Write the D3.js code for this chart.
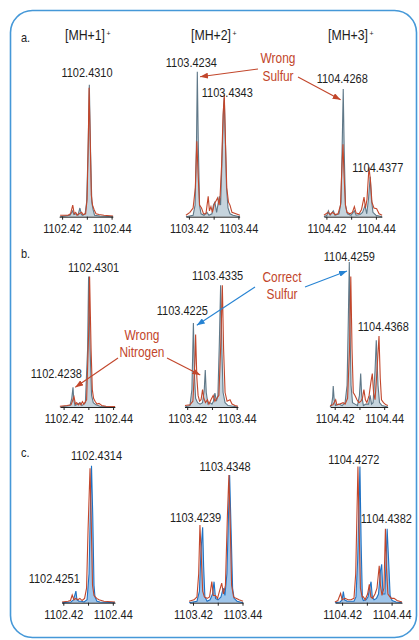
<!DOCTYPE html>
<html>
<head>
<meta charset="utf-8">
<script src="https://cdn.jsdelivr.net/npm/d3@7"></script>
<style>
  body { margin: 0; background: #fff; }
  svg { display: block; font-family: "Liberation Sans", Arial, sans-serif; }
  .axis path, .axis line { stroke: #222; stroke-width: 1; }
  .axis text { font-family: "Liberation Sans", Arial, sans-serif; font-size: 13.4px; fill: #222; }
</style>
</head>
<body>
<svg id="chart" width="419" height="640"></svg>
<script>
"use strict"

/* DATA
 */
const rowNames = ["a.", "b.", "c."];
const ionHeaders = ["[MH+1]", "[MH+2]", "[MH+3]"];
const ionCharge = "+";
const nominalMass = [1102, 1103, 1104];
const tickOffsets = [0.42, 0.43, 0.44];

// [m/z, relative intensity]  - measured (filled) and calculated (red line)
const a1Measured = [[1102.4192,0],[1102.4232,1],[1102.4242,4],[1102.4248,1.5],[1102.4258,2],[1102.4264,1],[1102.4272,6],[1102.4278,1.5],[1102.4284,1],[1102.4293,2],[1102.4299,10],[1102.4305,45],[1102.4310,91],[1102.4315,45],[1102.4320,10],[1102.4325,5],[1102.4331,1],[1102.4353,0.5],[1102.4406,0]];
const a1Theory = [[1102.4192,1],[1102.4224,1],[1102.4234,2],[1102.4243,8],[1102.4249,2],[1102.4255,3],[1102.4260,1],[1102.4279,3],[1102.4284,1.5],[1102.4295,2],[1102.4301,12],[1102.4306,55],[1102.4309,89],[1102.4314,50],[1102.4318,15],[1102.4323,8],[1102.4329,5],[1102.4337,2],[1102.4349,1.5],[1102.4369,1],[1102.4406,0.5]];

const a2Measured = [[1103.4188,0],[1103.4217,1],[1103.4225,8],[1103.4231,55],[1103.4234,100],[1103.4238,50],[1103.4243,8],[1103.4249,2],[1103.4261,1],[1103.4273,3],[1103.4281,1],[1103.4293,2],[1103.4299,8],[1103.4305,10],[1103.4312,3],[1103.4318,9],[1103.4323,14],[1103.4328,8],[1103.4334,40],[1103.4340,75],[1103.4343,82],[1103.4347,55],[1103.4352,20],[1103.4358,6],[1103.4366,2],[1103.4378,1],[1103.4406,0]];
const a2Theory = [[1103.4188,1],[1103.4204,3],[1103.4217,6],[1103.4226,20],[1103.4232,52],[1103.4237,30],[1103.4243,8],[1103.4251,6],[1103.4259,2],[1103.4269,2],[1103.4278,14],[1103.4283,4],[1103.4289,7],[1103.4295,3],[1103.4303,9],[1103.4310,11],[1103.4316,13],[1103.4322,8],[1103.4326,14],[1103.4332,35],[1103.4338,70],[1103.4343,84],[1103.4348,50],[1103.4353,20],[1103.4360,10],[1103.4366,8],[1103.4374,3],[1103.4390,2],[1103.4406,1]];

const a3Measured = [[1104.4190,0],[1104.4202,1],[1104.4208,4],[1104.4215,1],[1104.4228,4],[1104.4235,1],[1104.4251,2],[1104.4259,10],[1104.4265,60],[1104.4268,88],[1104.4272,45],[1104.4277,8],[1104.4285,2],[1104.4299,1],[1104.4313,4],[1104.4320,1],[1104.4336,1.5],[1104.4346,3],[1104.4356,7.6],[1104.4363,2],[1104.4370,12],[1104.4377,27.5],[1104.4382,12],[1104.4388,3],[1104.4400,1],[1104.4425,0]];
const a3Theory = [[1104.4190,1],[1104.4206,3],[1104.4215,1.5],[1104.4225,3],[1104.4235,1.5],[1104.4247,2],[1104.4257,8],[1104.4263,35],[1104.4267,50],[1104.4271,30],[1104.4277,8],[1104.4283,3],[1104.4295,2],[1104.4305,3],[1104.4313,7],[1104.4320,2.5],[1104.4332,2],[1104.4342,5],[1104.4352,13.5],[1104.4358,6],[1104.4364,12],[1104.4372,34],[1104.4378,25],[1104.4384,10],[1104.4392,6],[1104.4403,5.5],[1104.4413,2],[1104.4425,1]];

const b1Measured = [[1102.4185,0],[1102.4226,1],[1102.4233,6],[1102.4238,13.6],[1102.4241,5],[1102.4246,1],[1102.4258,2],[1102.4266,3],[1102.4274,1],[1102.4288,3],[1102.4297,40],[1102.4301,90],[1102.4307,40],[1102.4313,8],[1102.4320,3],[1102.4331,1.5],[1102.4347,0.5],[1102.4408,0]];
const b1Theory = [[1102.4185,0.5],[1102.4214,1],[1102.4230,1.5],[1102.4242,7],[1102.4248,2],[1102.4253,3],[1102.4260,1.5],[1102.4266,2.6],[1102.4270,1.5],[1102.4276,3.7],[1102.4282,2],[1102.4293,5],[1102.4301,50],[1102.4305,90],[1102.4311,40],[1102.4316,12],[1102.4321,6],[1102.4327,4],[1102.4335,2],[1102.4343,2.5],[1102.4354,1],[1102.4371,0.5],[1102.4408,0.3]];

const b2Measured = [[1103.4191,0],[1103.4211,1],[1103.4219,12],[1103.4225,58],[1103.4230,20],[1103.4234,6],[1103.4242,3],[1103.4252,2],[1103.4262,3],[1103.4269,12],[1103.4273,25.5],[1103.4277,10],[1103.4284,2],[1103.4292,3],[1103.4300,2],[1103.4306,4],[1103.4312,9.6],[1103.4318,4],[1103.4324,8],[1103.4330,45],[1103.4335,84],[1103.4340,40],[1103.4345,10],[1103.4353,3],[1103.4365,1],[1103.4405,0]];
const b2Theory = [[1103.4191,1],[1103.4211,1.5],[1103.4223,4],[1103.4231,30],[1103.4234,50],[1103.4239,20],[1103.4244,8],[1103.4250,4],[1103.4256,5],[1103.4262,12],[1103.4267,6],[1103.4274,3],[1103.4282,5],[1103.4288,2],[1103.4296,5],[1103.4305,8],[1103.4312,4],[1103.4320,6],[1103.4328,8],[1103.4336,45],[1103.4342,84],[1103.4347,40],[1103.4353,10],[1103.4361,4],[1103.4373,5],[1103.4381,2],[1103.4393,1],[1103.4405,0.5]];

const b3Measured = [[1104.4181,0],[1104.4187,1],[1104.4192,7],[1104.4194,14.5],[1104.4198,5],[1104.4203,1],[1104.4217,2],[1104.4230,1],[1104.4242,3],[1104.4250,15],[1104.4255,60],[1104.4259,100],[1104.4262,55],[1104.4266,15],[1104.4272,3],[1104.4282,2],[1104.4292,1],[1104.4300,8],[1104.4305,23],[1104.4309,8],[1104.4316,1],[1104.4326,2],[1104.4337,2],[1104.4343,8],[1104.4349,2],[1104.4355,3],[1104.4363,25],[1104.4368,46],[1104.4375,15],[1104.4381,3],[1104.4391,1],[1104.4415,0]];
const b3Theory = [[1104.4181,1],[1104.4193,1.5],[1104.4204,5],[1104.4209,1.5],[1104.4221,2],[1104.4234,3],[1104.4242,2],[1104.4252,6],[1104.4260,40],[1104.4265,90],[1104.4270,40],[1104.4275,10],[1104.4282,8],[1104.4290,5],[1104.4298,3],[1104.4306,4],[1104.4312,6],[1104.4318,12],[1104.4324,5],[1104.4330,3],[1104.4339,8],[1104.4347,18],[1104.4352,23],[1104.4357,10],[1104.4363,5],[1104.4369,20],[1104.4379,49],[1104.4384,20],[1104.4389,5],[1104.4397,3],[1104.4407,1.5],[1104.4415,1]];

const c1Measured = [[1102.4195,0],[1102.4231,0.5],[1102.4241,2],[1102.4251,8],[1102.4255,2],[1102.4263,1],[1102.4272,1],[1102.4284,0.5],[1102.4296,2],[1102.4304,20],[1102.4310,70],[1102.4314,94.5],[1102.4319,60],[1102.4324,12],[1102.4328,4],[1102.4336,1],[1102.4348,0.5],[1102.4409,0]];
const c1Theory = [[1102.4195,0.5],[1102.4219,1],[1102.4229,1.5],[1102.4236,5.3],[1102.4243,2],[1102.4251,3],[1102.4259,2],[1102.4267,3],[1102.4276,1.5],[1102.4286,3],[1102.4294,10],[1102.4300,50],[1102.4308,92.7],[1102.4313,55],[1102.4318,12],[1102.4324,5],[1102.4335,3],[1102.4344,2],[1102.4364,1],[1102.4409,0.5]];

const c2Measured = [[1103.4184,0],[1103.4216,1],[1103.4226,8],[1103.4232,35],[1103.4239,52],[1103.4243,25],[1103.4248,4],[1103.4257,1],[1103.4269,2],[1103.4279,6],[1103.4285,14.5],[1103.4291,3],[1103.4301,2],[1103.4313,4],[1103.4322,10],[1103.4329,5],[1103.4337,20],[1103.4345,70],[1103.4348,88],[1103.4354,50],[1103.4360,10],[1103.4366,3],[1103.4378,1],[1103.4402,0]];
const c2Theory = [[1103.4184,1],[1103.4204,2],[1103.4216,4],[1103.4223,20],[1103.4228,53.6],[1103.4234,30],[1103.4239,8],[1103.4246,4],[1103.4257,3],[1103.4267,4],[1103.4276,14.5],[1103.4282,5],[1103.4291,5],[1103.4299,3],[1103.4307,8],[1103.4316,13.5],[1103.4323,6],[1103.4331,12],[1103.4339,60],[1103.4345,88],[1103.4351,50],[1103.4356,12],[1103.4364,4],[1103.4374,3],[1103.4386,2],[1103.4402,1]];

const c3Measured = [[1104.4171,0],[1104.4192,0.5],[1104.4200,2],[1104.4205,7.6],[1104.4210,2],[1104.4220,1],[1104.4232,1],[1104.4248,1],[1104.4256,4],[1104.4263,30],[1104.4272,94],[1104.4277,40],[1104.4282,3],[1104.4286,1.5],[1104.4297,2],[1104.4305,4],[1104.4311,10],[1104.4317,14.5],[1104.4322,4],[1104.4329,2],[1104.4339,3],[1104.4347,6],[1104.4355,22],[1104.4360,26.5],[1104.4365,6],[1104.4373,6],[1104.4379,35],[1104.4382,51],[1104.4389,25],[1104.4394,5],[1104.4402,1.5],[1104.4418,0.5],[1104.4442,0]];
const c3Theory = [[1104.4171,0.5],[1104.4183,1.5],[1104.4194,6.4],[1104.4200,2],[1104.4212,3],[1104.4224,2],[1104.4236,2],[1104.4248,3],[1104.4255,20],[1104.4264,94],[1104.4269,50],[1104.4274,10],[1104.4281,4],[1104.4286,4],[1104.4293,2],[1104.4303,6],[1104.4310,12.7],[1104.4316,4],[1104.4323,3],[1104.4333,6],[1104.4341,10],[1104.4350,25.5],[1104.4355,12],[1104.4361,5],[1104.4369,10],[1104.4375,51],[1104.4379,25],[1104.4385,6],[1104.4398,3],[1104.4410,3],[1104.4422,1.5],[1104.4442,0.5]];

// labelled peaks (m/z of measured peak)
const a1Labels = [1102.4310];
const a2Labels = [1103.4234, 1103.4343];
const a3Labels = [1104.4268, 1104.4377];
const b1Labels = [1102.4301, 1102.4238];
const b2Labels = [1103.4225, 1103.4335];
const b3Labels = [1104.4259, 1104.4368];
const c1Labels = [1102.4314, 1102.4251];
const c2Labels = [1103.4239, 1103.4348];
const c3Labels = [1104.4272, 1104.4382];

const noteTexts = [["Wrong", "Sulfur"], ["Correct", "Sulfur"], ["Wrong", "Nitrogen"]];

/* LAYOUT
 */
const RED = "#c2462b", BLUE = "#2683d3", BORDER = "#4598d8", INK = "#1e1e1e";
const rowStyle = [
    { fill: "#c6d4dd", line: "#5f7888" },
    { fill: "#c6d4dd", line: "#5f7888" },
    { fill: "#9fc5ea", line: "#1f72c4" }
];
const rowAxisY = [216.7, 407, 602.7];
const rowTitleY = [41.5, 258, 457];
const PEAK_PX = 145;          // px for intensity 100
const PX_PER_MZ = 2475;
const NARROW = 0.82;          // condensed face is not installed - squeeze the glyphs
const tick42 = [[62.1, 188.9, 326.4], [63.6, 187.2, 334.7], [63.3, 193, 342.1]];
const axisSpan = [
    [[0.4188, 0.4405], [0.4188, 0.4405], [0.4190, 0.4424]],
    [[0.4186, 0.4407], [0.4189, 0.4405], [0.4182, 0.4414]],
    [[0.4193, 0.4409], [0.4186, 0.4402], [0.4172, 0.4442]]
];
const headerX = [85, 211, 348];
// [dx, gap above peak] per label
const labelOffsets = {
    a1: [[-2.3, 8]], a2: [[-6, 4.7], [3, 1.3]], a3: [[-1, 6], [7.5, 4.7]],
    b1: [[5, 4.7], [-16.7, 9.3]], b2: [[-11, 8.3], [-3, 5]], b3: [[0, 1], [7, 9.3]],
    c1: [[5, 5.7], [-21.7, 8]], c2: [[-7, 5], [-4.5, 4]], c3: [[-6, 2.3], [-0.8, 6]]
};

const panels = [
    { id: "a1", row: 0, col: 0, measured: a1Measured, theory: a1Theory, labels: a1Labels },
    { id: "a2", row: 0, col: 1, measured: a2Measured, theory: a2Theory, labels: a2Labels },
    { id: "a3", row: 0, col: 2, measured: a3Measured, theory: a3Theory, labels: a3Labels },
    { id: "b1", row: 1, col: 0, measured: b1Measured, theory: b1Theory, labels: b1Labels },
    { id: "b2", row: 1, col: 1, measured: b2Measured, theory: b2Theory, labels: b2Labels },
    { id: "b3", row: 1, col: 2, measured: b3Measured, theory: b3Theory, labels: b3Labels },
    { id: "c1", row: 2, col: 0, measured: c1Measured, theory: c1Theory, labels: c1Labels },
    { id: "c2", row: 2, col: 1, measured: c2Measured, theory: c2Theory, labels: c2Labels },
    { id: "c3", row: 2, col: 2, measured: c3Measured, theory: c3Theory, labels: c3Labels }
];

// annotation texts: centre x, baselines; arrows go from a start point to a labelled peak
const notes = [
    { text: noteTexts[0], x: 278, y: [63, 81], color: RED, arrowColor: RED,
      arrows: [{ from: [258, 69], panel: "a2", mz: 1103.4234, dx: 2.7, dy: 5 },
               { from: [298, 77], panel: "a3", mz: 1104.4268, dx: -2.6, dy: 10.7 }] },
    { text: noteTexts[1], x: 282, y: [282, 299], color: RED, arrowColor: BLUE,
      arrows: [{ from: [255, 287], panel: "b2", mz: 1103.4225, dx: 3.4, dy: 2.4 },
               { from: [305, 287], panel: "b3", mz: 1104.4259, dx: -2.3, dy: 9 }] },
    { text: noteTexts[2], x: 142, y: [340, 357], color: RED, arrowColor: RED,
      arrows: [{ from: [118, 358], panel: "b1", mz: 1102.4238, dx: 2.3, dy: 0 },
               { from: [167, 358], panel: "b2", mz: 1103.4273, dx: -5, dy: 5 }] }
];

/* DRAW
 */
const svg = d3.select("#chart");

function condense(sel) {
    sel.each(function() {
        const w = this.getComputedTextLength();
        if (w > 0) {
            d3.select(this)
                .attr("textLength", w * NARROW)
                .attr("lengthAdjust", "spacingAndGlyphs");
        }
    });
}

const defs = svg.append("defs");
[["red", RED], ["blue", BLUE]].forEach(([name, col]) => {
    defs.append("marker")
        .attr("id", "head-" + name)
        .attr("markerUnits", "userSpaceOnUse")
        .attr("viewBox", "0 0 8 6")
        .attr("refX", 8).attr("refY", 3)
        .attr("markerWidth", 8).attr("markerHeight", 6)
        .attr("orient", "auto")
      .append("path")
        .attr("d", "M0,0 L8,3 L0,6 Z")
        .attr("fill", col);
});

svg.append("rect")
    .attr("x", 10.5).attr("y", 10.5)
    .attr("width", 406).attr("height", 627)
    .attr("rx", 22).attr("ry", 22)
    .attr("fill", "none")
    .attr("stroke", BORDER)
    .attr("stroke-width", 1.6);

rowNames.forEach((name, i) => {
    svg.append("text")
        .attr("x", 21).attr("y", rowTitleY[i])
        .attr("font-size", 13.4).attr("fill", INK)
        .text(name)
        .call(condense);
});

ionHeaders.forEach((h, i) => {
    const t = svg.append("text")
        .attr("x", headerX[i]).attr("y", 40)
        .attr("text-anchor", "middle")
        .attr("font-size", 15).attr("fill", INK)
        .text(h);
    const half = t.node().getComputedTextLength() * NARROW / 2;
    t.call(condense);
    svg.append("text")
        .attr("x", headerX[i] + half + 1.5)
        .attr("y", 36)
        .attr("font-size", 7).attr("fill", INK)
        .text(ionCharge);
});

const scales = {};

panels.forEach((p) => {
    const base = nominalMass[p.col];
    const t0 = tick42[p.row][p.col];
    const span = axisSpan[p.row][p.col];
    const axisY = rowAxisY[p.row];

    const x = d3.scaleLinear()
        .domain([base + span[0], base + span[1]])
        .range([t0 + (span[0] - 0.42) * PX_PER_MZ, t0 + (span[1] - 0.42) * PX_PER_MZ]);
    const y = d3.scaleLinear()
        .domain([0, 100])
        .range([axisY, axisY - PEAK_PX]);
    scales[p.id] = { x: x, y: y, measured: p.measured };

    const g = svg.append("g").attr("class", "panel");
    const style = rowStyle[p.row];

    const area = d3.area()
        .x((d) => x(d[0]))
        .y0(axisY)
        .y1((d) => y(d[1]));
    const line = d3.line()
        .x((d) => x(d[0]))
        .y((d) => y(d[1]));

    g.append("path")
        .attr("d", area(p.measured))
        .attr("fill", style.fill);
    g.append("path")
        .attr("d", line(p.measured))
        .attr("fill", "none")
        .attr("stroke", style.line)
        .attr("stroke-width", 1.1);
    g.append("path")
        .attr("d", line(p.theory))
        .attr("fill", "none")
        .attr("stroke", RED)
        .attr("stroke-width", 1.1);

    g.append("g")
        .attr("class", "axis")
        .attr("transform", `translate(0,${axisY})`)
        .call(d3.axisBottom(x)
            .tickValues(tickOffsets.map((o) => base + o))
            .tickSize(3)
            .tickSizeOuter(0)
            .tickPadding(3.5)
            .tickFormat((d, i) => i == 1 ? "" : d3.format(".2f")(d)))
        .selectAll("text").call(condense);

    p.labels.forEach((mz, i) => {
        const peak = p.measured.reduce((a, b) =>
            Math.abs(b[0] - mz) < Math.abs(a[0] - mz) ? b : a);
        const off = labelOffsets[p.id][i];
        g.append("text")
            .attr("x", x(mz) + off[0])
            .attr("y", y(peak[1]) - off[1])
            .attr("text-anchor", "middle")
            .attr("font-size", 13.4)
            .attr("fill", INK)
            .text(d3.format(".4f")(mz))
            .call(condense);
    });
});

notes.forEach((n) => {
    n.text.forEach((t, i) => {
        svg.append("text")
            .attr("x", n.x).attr("y", n.y[i])
            .attr("text-anchor", "middle")
            .attr("font-size", 14.5)
            .attr("fill", n.color)
            .text(t)
            .call(condense);
    });
    n.arrows.forEach((a) => {
        const s = scales[a.panel];
        const peak = s.measured.reduce((p, q) =>
            Math.abs(q[0] - a.mz) < Math.abs(p[0] - a.mz) ? q : p);
        svg.append("line")
            .attr("x1", a.from[0]).attr("y1", a.from[1])
            .attr("x2", s.x(a.mz) + a.dx)
            .attr("y2", s.y(peak[1]) + a.dy)
            .attr("stroke", n.arrowColor)
            .attr("stroke-width", 1.1)
            .attr("marker-end", `url(#head-${n.arrowColor == RED ? "red" : "blue"})`);
    });
});
</script>
</body>
</html>
